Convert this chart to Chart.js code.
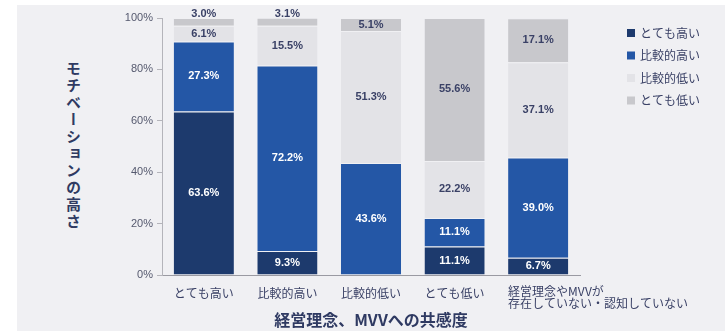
<!DOCTYPE html>
<html lang="ja">
<head>
<meta charset="utf-8">
<title>モチベーションの高さ</title>
<script src="https://cdn.jsdelivr.net/npm/chart.js@4"></script>
<style>
  html, body { margin: 0; padding: 0; background: #ffffff; }
  #wrap { position: relative; width: 725px; height: 331px; overflow: hidden; }
  #panel { position: absolute; left: 17px; top: 5px; right: 0; bottom: 0; background: #f0f0f3; }
  #yTitle {
    position: absolute; left: 63px; top: 61px;
    writing-mode: vertical-rl; letter-spacing: 2px;
    font: bold 15px "Noto Sans CJK JP", sans-serif; color: #2f3a62;
  }
  canvas { position: absolute; left: 0; top: 0; }
</style>
</head>
<body>
<div id="wrap">
  <div id="panel"></div>
  <div id="yTitle">モチベーションの高さ</div>
  <canvas id="motivationChart" width="725" height="331"></canvas>
</div>
<script>
// categories on the x axis (MVV empathy level)
const categories = [
    'とても高い',
    '比較的高い',
    '比較的低い',
    'とても低い',
    ['経営理念やMVVが', '存在していない・認知していない']
];
const seriesNames = ['とても高い', '比較的高い', '比較的低い', 'とても低い'];

// share of each motivation level, in %
const veryHigh   = [63.6, 9.3, 0, 11.1, 6.7];
const fairlyHigh = [27.3, 72.2, 43.6, 11.1, 39.0];
const fairlyLow  = [6.1, 15.5, 51.3, 22.2, 37.1];
const veryLow    = [3.0, 3.1, 5.1, 55.6, 17.1];

const yTicks = [0, 20, 40, 60, 80, 100];

const xTitle = '経営理念、MVVへの共感度';

const colors = ['#1d3a6d', '#2457a6', '#e3e3e7', '#c8c8cc'];
const labelColors = ['#ffffff', '#ffffff', '#3a4166', '#3a4166'];
const textColor = '#3a4166';
const jpFont = '"Noto Sans CJK JP", sans-serif';

// value labels in the middle of each segment
const segmentLabels = {
    id: 'segmentLabels',
    afterDatasetsDraw(chart) {
        const ctx = chart.ctx;
        ctx.save();
        ctx.font = 'bold 11px "Liberation Sans", Arial, sans-serif';
        ctx.textAlign = 'center';
        ctx.textBaseline = 'middle';
        chart.data.datasets.forEach((ds, di) => {
            const meta = chart.getDatasetMeta(di);
            meta.data.forEach((bar, i) => {
                const v = ds.data[i];
                if (!v) return;
                const h = Math.abs(bar.base - bar.y);
                // thin top segments get their label nudged above the bar
                const y = h < 12 ? bar.y - 4 : (bar.y + bar.base) / 2;
                ctx.fillStyle = labelColors[di];
                ctx.fillText(v.toFixed(1) + '%', bar.x, y);
            });
        });
        ctx.restore();
    }
};

// category labels, axis title and legend
const decorations = {
    id: 'decorations',
    afterDraw(chart) {
        const ctx = chart.ctx;
        const area = chart.chartArea;
        const meta = chart.getDatasetMeta(1);
        ctx.save();
        ctx.fillStyle = textColor;
        ctx.textBaseline = 'middle';
        ctx.font = '12px ' + jpFont;

        categories.forEach((label, i) => {
            const bar = meta.data[i];
            if (Array.isArray(label)) {
                ctx.textAlign = 'left';
                label.forEach((line, li) => {
                    ctx.fillText(line, bar.x - bar.width / 2, 291 + li * 12);
                });
            } else {
                ctx.textAlign = 'center';
                ctx.fillText(label, bar.x, 293);
            }
        });

        ctx.font = 'bold 16px ' + jpFont;
        ctx.textAlign = 'center';
        ctx.fillStyle = '#2f3a62';
        ctx.fillText(xTitle, (area.left + area.right) / 2, 320);

        // legend
        ctx.font = '12px ' + jpFont;
        ctx.textAlign = 'left';
        seriesNames.forEach((name, i) => {
            const y = 33 + i * 22.5;
            ctx.fillStyle = colors[i];
            ctx.fillRect(627, y - 4, 8, 8);
            ctx.fillStyle = textColor;
            ctx.fillText(name, 640, y);
        });
        ctx.restore();
    }
};

const datasets = [veryHigh, fairlyHigh, fairlyLow, veryLow].map((values, i) => ({
    label: seriesNames[i],
    data: values,
    backgroundColor: colors[i],
    borderColor: 'rgba(240, 240, 243, 0.55)',
    borderWidth: { top: 1, right: 0, bottom: 0, left: 0 },
    borderSkipped: false,
    barPercentage: 0.72,
    categoryPercentage: 1
}));

new Chart(document.getElementById('motivationChart'), {
    type: 'bar',
    data: {
        labels: categories,
        datasets: datasets
    },
    options: {
        responsive: false,
        animation: false,
        events: [],
        layout: {
            padding: { top: 18, right: 145, bottom: 0, left: 0 }
        },
        plugins: {
            legend: { display: false },
            tooltip: { enabled: false }
        },
        scales: {
            x: {
                stacked: true,
                grid: { display: false },
                border: { display: true, color: '#9a9aa2', width: 1 },
                ticks: { display: false },
                afterFit(scale) { scale.height = 56; }
            },
            y: {
                stacked: true,
                min: yTicks[0],
                max: yTicks[yTicks.length - 1],
                afterBuildTicks(scale) {
                    scale.ticks = yTicks.map(v => ({ value: v }));
                },
                grid: {
                    drawOnChartArea: false,
                    drawTicks: true,
                    tickLength: 5,
                    color: '#b4b4ba'
                },
                border: { display: true, color: '#b4b4ba', width: 1 },
                ticks: {
                    padding: 4,
                    color: '#55596e',
                    font: { size: 11, family: '"Liberation Sans", Arial, sans-serif' },
                    callback: v => v + '%'
                },
                afterFit(scale) { scale.width = 162; }
            }
        }
    },
    plugins: [segmentLabels, decorations]
});
</script>
</body>
</html>
